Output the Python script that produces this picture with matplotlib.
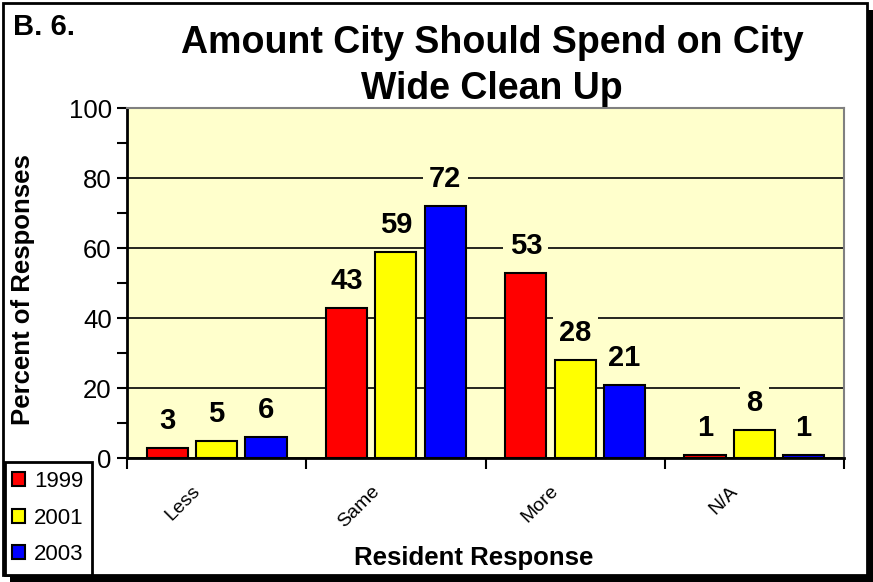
import matplotlib
matplotlib.use("Agg")
import matplotlib.pyplot as plt
import matplotlib.transforms as mtransforms
from matplotlib.patches import Rectangle, Patch
import numpy as np

plt.rcParams['font.family'] = ['Liberation Sans', 'DejaVu Sans']

categories = ["Less", "Same", "More", "N/A"]
years = ["1999", "2001", "2003"]
v1999 = [3, 43, 53, 1]
v2001 = [5, 59, 28, 8]
v2003 = [6, 72, 21, 1]
colors = ["#FF0000", "#FFFF00", "#0000FF"]
bg = "#FFFFCC"

W, H = 873, 582
fig = plt.figure(figsize=(W / 100, H / 100), dpi=100)
fig.patch.set_facecolor("white")

# frame with shadow
fig.patches.append(Rectangle((10 / W, 0), 1 - 10 / W, (H - 10) / H, transform=fig.transFigure,
                             facecolor="black", edgecolor="none", zorder=-10))
fig.patches.append(Rectangle((3 / W, 7 / H), 864 / W, (H - 10) / H, transform=fig.transFigure,
                             facecolor="white", edgecolor="black", lw=2, zorder=-9))

ax = fig.add_axes([127 / W, 1 - 458 / H, (844 - 127) / W, (458 - 108) / H])
ax.set_facecolor(bg)

x = np.arange(len(categories))
w = 0.23
off = 0.275
series = [v1999, v2001, v2003]
for i, (vals, c, yr) in enumerate(zip(series, colors, years)):
    xs = x + (i - 1) * off
    ax.bar(xs, vals, width=w, color=c, edgecolor="black", linewidth=1.5, zorder=3, label=yr)
    for xi, v in zip(xs, vals):
        ax.annotate(f"{v}", (xi, v), xytext=(0, 13.5), textcoords="offset points",
                    ha="center", va="baseline", fontsize=21, fontweight="bold", zorder=4,
                    bbox=dict(boxstyle="square,pad=0.22", facecolor=bg, edgecolor="none"))

ax.set_xlim(-0.5, 3.5)
ax.set_ylim(0, 100)
ax.set_yticks(np.arange(0, 101, 20))
ax.set_yticks(np.arange(10, 100, 20), minor=True)
ax.tick_params(axis="y", which="both", direction="out", length=7, width=1.5, labelsize=18.5, pad=4)
ax.yaxis.grid(True, which="major", color="black", lw=1.2, zorder=1)
ax.set_axisbelow(True)

ax.set_xticks(x)
ax.set_xticks(np.arange(-0.5, 3.6, 1), minor=True)
ax.set_xticklabels(categories, fontsize=14, rotation=45, ha="right", va="center",
                   rotation_mode="anchor")
ax.tick_params(axis="x", which="major", length=0, pad=22)
ax.tick_params(axis="x", which="minor", direction="out", length=8, width=1.5)
shift = mtransforms.ScaledTranslation(-19 / 100, 0, fig.dpi_scale_trans)
for lab in ax.get_xticklabels():
    lab.set_transform(lab.get_transform() + shift)

for s in ["left", "bottom"]:
    ax.spines[s].set_color("black")
    ax.spines[s].set_linewidth(2)
for s in ["top", "right"]:
    ax.spines[s].set_color("#808080")
    ax.spines[s].set_linewidth(1.5)

ax.set_ylabel("Percent of Responses", fontsize=18.5, fontweight="bold")
ax.yaxis.set_label_coords(-0.128, 0.48)
ax.set_xlabel("Resident Response", fontsize=18.5, fontweight="bold")
ax.xaxis.set_label_coords(0.483, -0.25)

fig.text(492 / W, 1 - 66 / H, "Amount City Should Spend on City\nWide Clean Up",
         ha="center", va="center", fontsize=27, fontweight="bold", linespacing=1.35)
fig.text(13 / W, 1 - 27 / H, "B. 6.", ha="left", va="center", fontsize=21, fontweight="bold")

# legend box
fig.patches.append(Rectangle((5 / W, 7 / H), 87 / W, (575 - 462) / H, transform=fig.transFigure,
                             facecolor="white", edgecolor="black", lw=2, zorder=5))
handles = [Patch(facecolor=c, edgecolor="black", linewidth=1.5) for c in colors]
leg = fig.legend(handles, years, loc="center", bbox_to_anchor=(48 / W, 1 - 518 / H),
                 frameon=False, fontsize=16, handlelength=0.6, handleheight=0.6,
                 handletextpad=0.4, labelspacing=0.7, borderpad=0)
leg.set_zorder(6)

fig.savefig("out.png", dpi=100)
